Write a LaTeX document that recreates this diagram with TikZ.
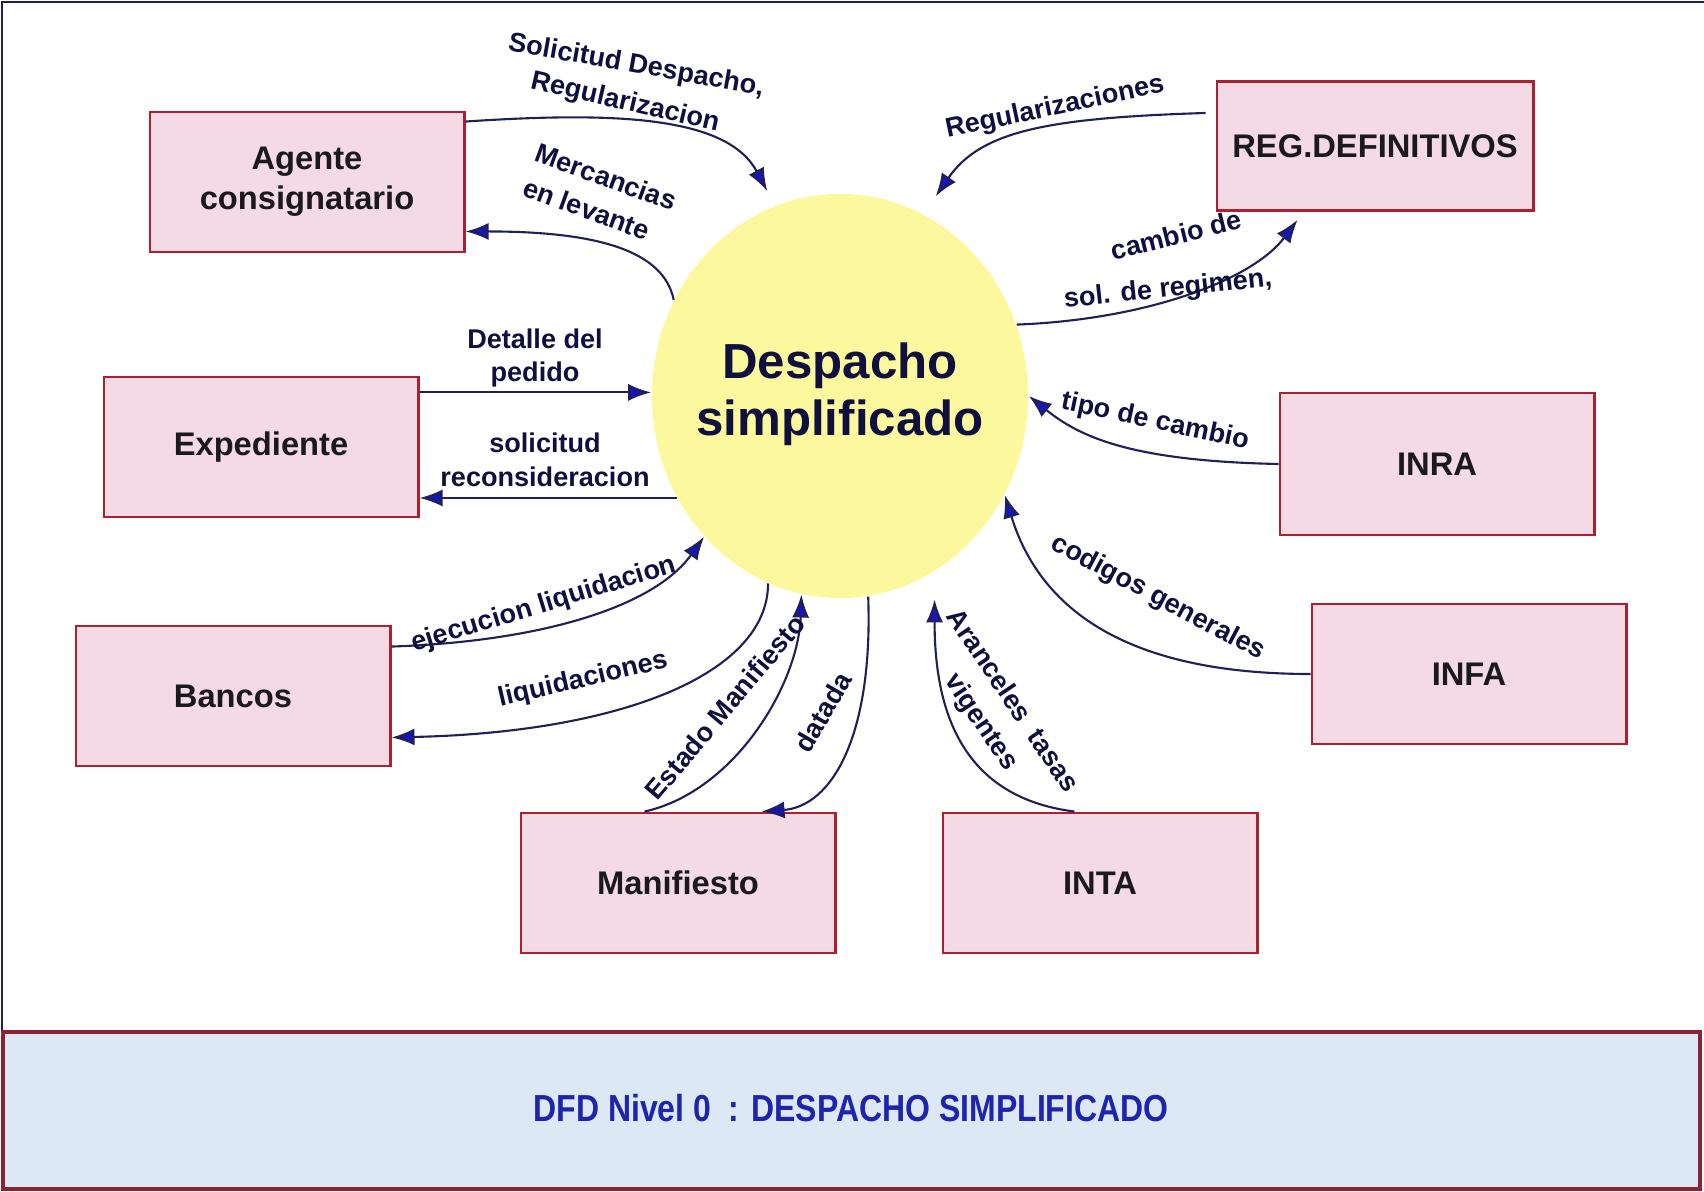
\documentclass[tikz,border=0pt]{standalone}
\usepackage{fontspec}
\setmainfont{Liberation Sans}
\usetikzlibrary{shapes.geometric, arrows.meta, calc}

\definecolor{caja}{RGB}{243,218,228}
\definecolor{bordecaja}{RGB}{172,32,48}
\definecolor{amarillo}{RGB}{252,248,158}
\definecolor{linea}{RGB}{32,32,84}
\definecolor{punta}{RGB}{22,22,185}
\definecolor{textoflujo}{RGB}{16,16,62}
\definecolor{textocaja}{RGB}{26,26,30}
\definecolor{banda}{RGB}{220,233,244}
\definecolor{bordebanda}{RGB}{142,32,52}
\definecolor{azultitulo}{RGB}{30,36,172}

\begin{document}
\begin{tikzpicture}[x=0.01cm, y=-0.01cm,
	entidad/.style={draw=bordecaja, fill=caja, line width=0.8pt, minimum width=3.14cm, minimum height=1.4cm, align=center, font=\fontsize{9.3}{11.4}\selectfont\bfseries, text=textocaja},
	flujo/.style={draw=linea, line width=0.6pt, -{Latex[length=2.3mm,width=1.7mm,fill=punta]}},
	etiqueta/.style={font=\fontsize{7.7}{9.6}\selectfont\bfseries, text=textoflujo, align=center, inner sep=0pt}]
	\useasboundingbox (0,0) rectangle (1704,1192);
	
	% Marco y banda inferior
	\draw[linea, line width=0.8pt] (2,1030) -- (2,2) -- (1704,2);
	\draw[bordebanda, fill=banda, line width=1pt] (3,1032) rectangle (1700,1189);
	\node[font=\fontsize{10.7}{12}\selectfont\bfseries, text=azultitulo] (titulo) at (851,1108) {\scalebox{0.85}[1]{DFD Nivel 0\ \ : DESPACHO SIMPLIFICADO}};
	
	% Proceso central
	\node[ellipse, fill=amarillo, minimum width=3.76cm, minimum height=4.04cm, inner sep=0pt] (dfd) at (840,396) {};
	\node[align=center, font=\fontsize{14}{16.2}\selectfont\bfseries, text=textoflujo] (dfdtexto) at (840,394) {Despacho\\simplificado};
	
	% Entidades externas
	\node[entidad] (agente) at (307,182) {Agente\\consignatario};
	\node[entidad, minimum width=3.16cm, minimum height=1.29cm] (regdef) at (1375,146) {REG.DEFINITIVOS};
	\node[entidad] (exped) at (261,447) {Expediente};
	\node[entidad, minimum height=1.42cm] (inra) at (1437,464) {INRA};
	\node[entidad] (infa) at (1469,674) {INFA};
	\node[entidad] (bancos) at (233,696) {Bancos};
	\node[entidad] (manif) at (678,883) {Manifiesto};
	\node[entidad] (inta) at (1100,883) {INTA};
	
	% Flujos de datos
	\draw[flujo] ($(agente.north east)+(0,11)$) .. controls +(150,-10) and +(-40,-75) .. ($(dfd.110)+(-4,-16)$);
	\draw[flujo] (dfd.150) .. controls +(-10,-50) and +(130,0) .. ($(agente.south east)+(0,-22)$);
	\draw[flujo] ($(regdef.west)+(-10,-33)$) .. controls +(-160,5) and +(45,-65) .. ($(dfd.64)+(8,-20)$);
	\draw[flujo] (dfd.22) .. controls +(130,-5) and +(-45,60) .. ($(regdef.south west)+(82,8)$);
	\draw[flujo] (inra.west) .. controls +(-150,-3) and +(50,40) .. (dfd.0);
	\draw[flujo] (infa.west) .. controls +(-160,0) and +(40,130) .. (dfd.-31);
	\draw[flujo] (exped.19) -- (exped.19 -| dfd.west);
	\draw[flujo] (dfd.212) -- (dfd.212 -| exped.east);
	\draw[flujo] ($(bancos.north east)+(0,22)$) .. controls +(150,-5) and +(-50,70) .. (dfd.-134);
	\draw[flujo] (dfd.-111) .. controls +(0,90) and +(230,-5) .. ($(bancos.south east)+(0,-30)$);
	\draw[flujo] ($(manif.north west)+(125,0)$) .. controls +(90,-20) and +(-3,90) .. (dfd.-101);
	\draw[flujo] (dfd.-82) .. controls +(5,140) and +(70,-5) .. ($(manif.north west)+(242,0)$);
	\draw[flujo] ($(inta.north west)+(133,0)$) .. controls +(-120,-15) and +(0,100) .. ($(dfd.-65)+(10,22)$);
	
	% Etiquetas de los flujos
	\node[etiqueta, rotate=-10] (solicitud) at (636,66) {Solicitud Despacho,};
	\node[etiqueta, rotate=-13] (regular) at (625,103) {Regularizacion};
	\node[etiqueta, rotate=-20, align=left, font=\fontsize{7.7}{10.4}\selectfont\bfseries] (mercancias) at (600,194) {Mercancias\\en levante};
	\node[etiqueta, rotate=12] (regulares) at (1055,108) {Regularizaciones};
	\node[etiqueta, rotate=14] (cambio) at (1176,235) {cambio de};
	\node[etiqueta, rotate=6] (regimen) at (1168,290) {sol. de regimen,};
	\node[etiqueta, rotate=-12] (tipo) at (1155,422) {tipo de cambio};
	\node[etiqueta, rotate=-28] (codigos) at (1158,598) {codigos generales};
	\node[etiqueta] (detalle) at (535,358) {Detalle del\\pedido};
	\node[etiqueta] (reconsid) at (545,460) {solicitud\\reconsideracion};
	\node[etiqueta, rotate=17] (ejecucion) at (544,605) {ejecucion liquidacion};
	\node[etiqueta, rotate=13] (liquid) at (583,680) {liquidaciones};
	\node[etiqueta, rotate=50] (estado) at (725,707) {Estado Manifiesto};
	\node[etiqueta, rotate=60] (datada) at (823,712) {datada};
	\node[etiqueta, rotate=-56, font=\fontsize{7.7}{10.6}\selectfont\bfseries] (aranceles) at (996,712) {Aranceles\ \ tasas\\vigentes};
\end{tikzpicture}
\end{document}
